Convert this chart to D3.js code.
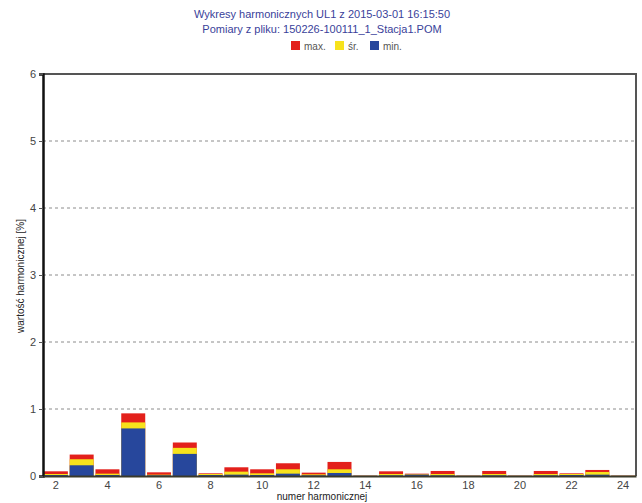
<!DOCTYPE html>
<html>
<head>
<meta charset="utf-8">
<script src="https://cdn.jsdelivr.net/npm/d3@7/dist/d3.min.js"></script>
<style>
  html, body { margin: 0; padding: 0; background: #fff; }
  svg { display: block; font-family: "Liberation Sans", Arial, sans-serif; }
</style>
</head>
<body>
<svg id="chart" width="642" height="503"></svg>
<script>
// Harmonic orders 2..24
const harmonics = [2,3,4,5,6,7,8,9,10,11,12,13,14,15,16,17,18,19,20,21,22,23,24];
// Harmonic values in % (maximum, average, minimum)
const maxValues = [0.07,0.32,0.10,0.935,0.055,0.50,0.04,0.13,0.10,0.19,0.05,0.21,0.005,0.07,0.035,0.075,0.005,0.075,0.005,0.075,0.04,0.09,0.005];
const avgValues = [0.03,0.25,0.035,0.80,0.02,0.42,0.03,0.065,0.04,0.10,0.025,0.10,0.003,0.03,0.025,0.03,0.003,0.03,0.003,0.03,0.03,0.06,0.003];
const minValues = [0.015,0.16,0.015,0.71,0.01,0.33,0.015,0.02,0.015,0.035,0.01,0.045,0.002,0.01,0.02,0.01,0.002,0.01,0.002,0.01,0.015,0.02,0.002];
const yTicks = [0,1,2,3,4,5,6];
const xTicks = [2,4,6,8,10,12,14,16,18,20,22,24];
const seriesNames = ["max.", "śr.", "min."];
const seriesColors = ["#e3201b", "#f7e21c", "#27479c"];
const titleLines = ["Wykresy harmonicznych UL1 z 2015-03-01 16:15:50", "Pomiary z pliku: 150226-100111_1_Stacja1.POM"];

const svg = d3.select("#chart");
const plot = { left: 43, right: 636, top: 74, bottom: 476 };

const x = d3.scaleBand()
  .domain(harmonics)
  .range([plot.left, plot.right])
  .paddingInner(0.07)
  .paddingOuter(0.035);
const y = d3.scaleLinear().domain([0, 6]).range([plot.bottom, plot.top]);

// Titles
svg.selectAll("text.title").data(titleLines).join("text")
  .attr("class", "title")
  .attr("x", 322).attr("y", (d, i) => 18 + i * 15)
  .attr("text-anchor", "middle")
  .attr("font-size", 11)
  .attr("fill", "#3a3f9a")
  .text(d => d);

// Legend
const legendX = [291, 335, 370];
const lg = svg.selectAll("g.legend").data(seriesNames).join("g")
  .attr("class", "legend")
  .attr("transform", (d, i) => `translate(${legendX[i]},41)`);
lg.append("rect").attr("width", 9).attr("height", 9).attr("fill", (d, i) => seriesColors[i]);
lg.append("text").attr("x", 13).attr("y", 8.5).attr("font-size", 10).attr("fill", "#555").text(d => d);

// Grid lines
svg.append("g").selectAll("line").data(yTicks.filter(t => t > 0 && t < 6)).join("line")
  .attr("x1", plot.left).attr("x2", plot.right)
  .attr("y1", d => y(d)).attr("y2", d => y(d))
  .attr("stroke", "#8c8c8c").attr("stroke-width", 1)
  .attr("stroke-dasharray", "3,3");

// Bars: max, then average, then minimum overlaid from zero
const layers = [maxValues, avgValues, minValues];
layers.forEach((vals, li) => {
  svg.append("g").selectAll("rect").data(harmonics).join("rect")
    .attr("x", d => x(d))
    .attr("width", x.bandwidth())
    .attr("y", (d, i) => y(vals[i]))
    .attr("height", (d, i) => y(0) - y(vals[i]))
    .attr("fill", seriesColors[li]);
});

// Frame: top and right borders
svg.append("path")
  .attr("d", `M${plot.left},${plot.top}H${plot.right}V${plot.bottom}`)
  .attr("fill", "none").attr("stroke", "#555").attr("stroke-width", 2);

// Y axis
const yAxis = svg.append("g")
  .attr("transform", `translate(${plot.left},0)`)
  .call(d3.axisLeft(y).tickValues(yTicks).tickFormat(d3.format("d")).tickSize(4).tickPadding(3));
yAxis.select(".domain").attr("stroke", "#111").attr("stroke-width", 2.5);
yAxis.selectAll(".tick line").attr("stroke", "#555");
yAxis.selectAll(".tick text").attr("font-size", 11).attr("fill", "#444").attr("font-family", "Liberation Sans, Arial, sans-serif");

// X axis
const xAxis = svg.append("g")
  .attr("transform", `translate(0,${plot.bottom})`)
  .call(d3.axisBottom(x).tickValues(xTicks).tickSize(0).tickPadding(5));
xAxis.select(".domain").attr("stroke", "#3a3a2a").attr("stroke-width", 2);
xAxis.selectAll(".tick text").attr("font-size", 11).attr("fill", "#444").attr("font-family", "Liberation Sans, Arial, sans-serif");

// Axis titles
svg.append("text")
  .attr("x", 322).attr("y", 500)
  .attr("text-anchor", "middle").attr("font-size", 10).attr("fill", "#222")
  .text("numer harmonicznej");
svg.append("text")
  .attr("transform", "translate(24,276) rotate(-90)")
  .attr("text-anchor", "middle").attr("font-size", 10).attr("fill", "#222")
  .text("wartość harmonicznej [%]");
</script>
</body>
</html>
